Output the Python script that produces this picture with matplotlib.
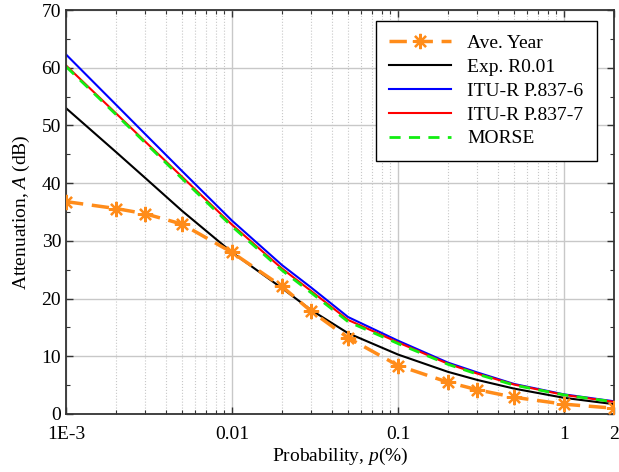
import numpy as np
import matplotlib.pyplot as plt
from matplotlib.ticker import FixedLocator, MultipleLocator, NullFormatter

plt.rcParams['font.family'] = 'Liberation Serif'
plt.rcParams['mathtext.fontset'] = 'custom'
plt.rcParams['mathtext.rm'] = 'Liberation Serif'
plt.rcParams['mathtext.it'] = 'Liberation Serif:italic'

# probability (%) grid
p = [0.001, 0.002, 0.003, 0.005, 0.01, 0.02, 0.03, 0.05, 0.1, 0.2, 0.3, 0.5, 1, 2]

# attenuation (dB)
ave_year = [36.8, 35.6, 34.7, 32.9, 28.0, 22.1, 17.8, 13.2, 8.4, 5.5, 4.2, 2.9, 1.7, 1.0]
exp_r001 = [53.0, 45.4, 40.9, 35.2, 28.0, 21.8, 18.0, 14.0, 10.3, 7.3, 5.9, 4.4, 2.8, 1.7]
itu_6 = [62.3, 53.6, 48.5, 42.1, 33.5, 25.8, 21.9, 16.8, 12.7, 8.9, 7.2, 5.2, 3.4, 2.2]
itu_7 = [60.4, 52.1, 47.2, 41.1, 32.8, 25.2, 21.3, 16.3, 12.4, 8.7, 7.0, 5.1, 3.3, 2.1]
morse = [60.2, 51.9, 47.0, 40.8, 32.5, 24.9, 21.0, 16.0, 12.2, 8.6, 6.9, 5.0, 3.3, 2.1]

x_ticks = [0.001, 0.01, 0.1, 1, 2]
x_ticklabels = ['1E-3', '0.01', '0.1', '1', '2']

fig = plt.figure(figsize=(6.19, 4.72), dpi=100)
ax = fig.add_axes([0.1066, 0.1229, 0.8854, 0.8559])

ax.plot(p, ave_year, color='#ff8c1a', linewidth=2.5, linestyle=(0, (5, 2.5)),
        marker=(8, 2, 0), markersize=11, markeredgewidth=1.6, label='Ave. Year', zorder=3)
ax.plot(p, exp_r001, color='black', linewidth=1.5, label='Exp. R0.01')
ax.plot(p, itu_6, color='blue', linewidth=1.5, label='ITU-R P.837-6')
ax.plot(p, itu_7, color='red', linewidth=1.5, label='ITU-R P.837-7')
ax.plot(p, morse, color='#11ee11', linewidth=2, linestyle=(0, (4, 3)), label='MORSE')

ax.set_xscale('log')
ax.set_xlim(0.001, 2)
ax.set_ylim(0, 70)
ax.xaxis.set_major_locator(FixedLocator(x_ticks))
ax.set_xticklabels(x_ticklabels)
minors = [m * 10.0 ** e for e in range(-3, 1) for m in range(2, 10)]
ax.xaxis.set_minor_locator(FixedLocator([v for v in minors if v < 2]))
ax.xaxis.set_minor_formatter(NullFormatter())
ax.yaxis.set_major_locator(MultipleLocator(10))
ax.yaxis.set_minor_locator(MultipleLocator(5))

ax.grid(True, which='major', color='#c8c8c8', linewidth=1)
ax.grid(True, which='minor', axis='x', color='#c8c8c8', linewidth=0.8, linestyle=':')
ax.set_axisbelow(True)

ax.tick_params(which='both', direction='in', top=True, right=True, labelsize=14, colors='#333333',
               labelcolor='black')
ax.tick_params(which='major', length=5, width=1)
ax.tick_params(which='minor', length=3, width=0.8)
ax.tick_params(axis='x', which='major', pad=9)
for s in ax.spines.values():
    s.set_color('#333333')
    s.set_linewidth(1.3)

ax.set_xlabel('Probability, $\\it{p}$(%)', fontsize=14, labelpad=2)
ax.set_ylabel('Attenuation, $\\it{A}$ (dB)', fontsize=14, labelpad=7)

leg = ax.legend(loc='upper right', fontsize=14, frameon=True, fancybox=False,
                edgecolor='black', framealpha=1, handlelength=3.2, borderpad=0.7,
                labelspacing=0.32, bbox_to_anchor=(0.986, 0.997))
leg.get_frame().set_linewidth(1)

fig.savefig('out.png', dpi=100)
